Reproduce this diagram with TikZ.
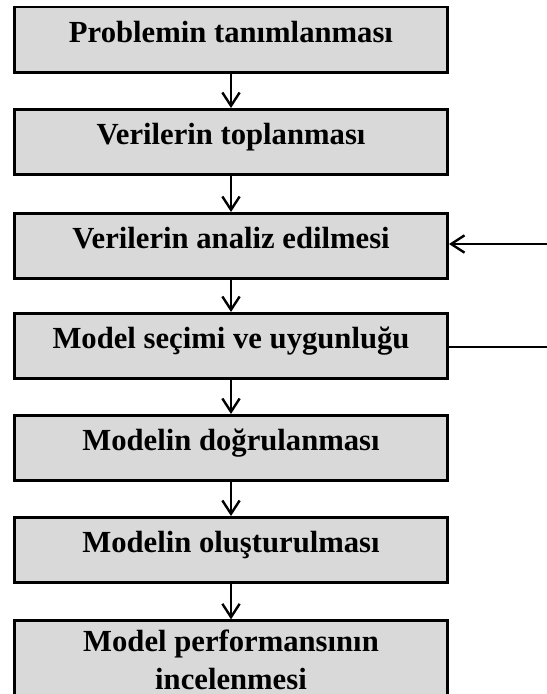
\documentclass[tikz,border=0pt]{standalone}
\usepackage{fontspec}
\setmainfont{Liberation Serif}
\usetikzlibrary{arrows.meta}
\definecolor{boxgray}{HTML}{D9D9D9}
\begin{document}
\begin{tikzpicture}[x=0.75pt,y=-0.75pt,
  stage/.style={draw=black, line width=2pt, fill=boxgray,
    minimum width=325pt, minimum height=49pt, inner sep=0pt,
    font=\fontsize{23}{28}\selectfont\bfseries},
  oneline/.style={stage, text height=0.68em, text depth=0.3em},
  flow/.style={line width=1.8pt, -{Straight Barb[length=10pt,width=13pt]}},
  feed/.style={line width=1.8pt}]
  \clip (0,0) rectangle (547,694);

  % process steps, top to bottom
  \node[oneline] (s1) at (231,39.5) {Problemin tanımlanması};
  \node[oneline] (s2) at (231,142) {Verilerin toplanması};
  \node[oneline] (s3) at (231,246) {Verilerin analiz edilmesi};
  \node[oneline] (s4) at (231,346) {Model seçimi ve uygunluğu};
  \node[oneline] (s5) at (231,448) {Modelin doğrulanması};
  \node[oneline] (s6) at (231,550) {Modelin oluşturulması};
  \node[stage, align=center, minimum height=59pt, anchor=north]
    (s7) at (231,619.3) {Model performansının\\incelenmesi};

  % downward flow
  \draw[flow] (s1) -- (s2);
  \draw[flow] (s2) -- (s3);
  \draw[flow] (s3) -- (s4);
  \draw[flow] (s4) -- (s5);
  \draw[flow] (s5) -- (s6);
  \draw[flow] (s6) -- (s7);

  % side lines at the right margin
  \coordinate (r3) at (550,244);
  \coordinate (r4) at (550,347);
  \draw[flow] (r3) -- (r3 -| s3.east);
  \draw[feed] (r4) -- (r4 -| s4.east);
\end{tikzpicture}
\end{document}
